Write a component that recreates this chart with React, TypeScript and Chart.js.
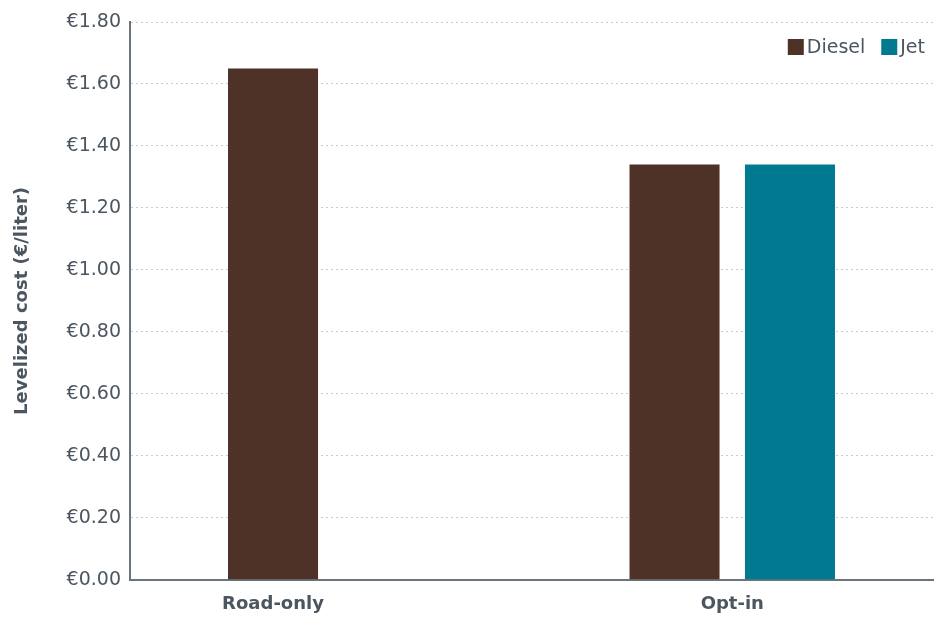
import React, { useEffect, useRef } from "react";
import { Chart, registerables } from "chart.js";

Chart.register(...registerables);

const categories = ["Road-only", "Opt-in"];
const dieselValues = [1.65, 1.34];
const jetValues: (number | null)[] = [null, 1.34];
const yTicks = [0, 0.2, 0.4, 0.6, 0.8, 1.0, 1.2, 1.4, 1.6, 1.8];
const yTitle = "Levelized cost (€/liter)";

const FONT = "'DejaVu Sans', 'Open Sans', sans-serif";
const TEXT = "#4b5660";
const DIESEL = "#4e3228";
const JET = "#007a91";

const customPlugin = {
  id: "customDraw",
  afterDraw(chart: any) {
    const ctx = chart.ctx;
    const area = chart.chartArea;
    ctx.save();
    ctx.font = `bold 18px ${FONT}`;
    ctx.fillStyle = TEXT;
    ctx.textAlign = "center";
    ctx.textBaseline = "middle";
    categories.forEach((cat, i) => {
      const xs: number[] = [];
      chart.data.datasets.forEach((ds: any, di: number) => {
        const v = ds.data[i];
        if (v !== null && v !== undefined) {
          xs.push(chart.getDatasetMeta(di).data[i].x);
        }
      });
      const cx = xs.reduce((a, b) => a + b, 0) / xs.length;
      ctx.fillText(cat, cx, area.bottom + 25);
    });
    ctx.font = `19px ${FONT}`;
    ctx.textAlign = "left";
    const box = 16;
    const items = chart.data.datasets.map((ds: any) => ({ label: ds.label, color: ds.backgroundColor }));
    const widths = items.map((it: any) => box + 3 + ctx.measureText(it.label).width);
    const gap = 16;
    const total = widths.reduce((a: number, b: number) => a + b, 0) + gap * (items.length - 1);
    let x = area.right - 8 - total;
    const y = area.top + 25;
    items.forEach((it: any, k: number) => {
      ctx.fillStyle = it.color;
      ctx.fillRect(x, y - box / 2, box, box);
      ctx.fillStyle = TEXT;
      ctx.fillText(it.label, x + box + 3, y + 1);
      x += widths[k] + gap;
    });
    ctx.restore();
  },
};

export default function App() {
  const ref = useRef<HTMLCanvasElement | null>(null);
  useEffect(() => {
    document.body.style.margin = "0";
    const chart = new Chart(ref.current as HTMLCanvasElement, {
      type: "bar",
      data: {
        labels: categories,
        datasets: [
          { label: "Diesel", data: dieselValues, backgroundColor: DIESEL, barPercentage: 0.78, categoryPercentage: 0.575 },
          { label: "Jet", data: jetValues, backgroundColor: JET, barPercentage: 0.78, categoryPercentage: 0.575 },
        ],
      },
      options: {
        animation: false,
        responsive: false,
        layout: { padding: { left: 12, right: 7, top: 22, bottom: 10 } },
        plugins: { legend: { display: false }, tooltip: { enabled: false } },
        scales: {
          x: {
            grid: { display: false },
            border: { display: true, color: "#6b747b", width: 2 },
            ticks: { color: "rgba(0,0,0,0)", font: { family: FONT, size: 16 }, padding: 0 },
          },
          y: {
            min: 0,
            max: 1.8,
            afterBuildTicks: (axis: any) => {
              axis.ticks = yTicks.map((v) => ({ value: v }));
            },
            grid: {
              color: (c: any) => (c.tick && c.tick.value === 0 ? "rgba(0,0,0,0)" : "#c9cccf"),
              drawTicks: false,
            },
            border: { display: true, color: "#6b747b", width: 2, dash: [2, 3] },
            ticks: {
              color: TEXT,
              font: { family: FONT, size: 19 },
              padding: 9,
              callback: (v: any) => "€" + Number(v).toFixed(2),
            },
            title: {
              display: true,
              text: yTitle,
              color: TEXT,
              font: { family: FONT, size: 18, weight: "bold" },
              padding: { top: 0, bottom: 24 },
            },
          },
        },
      },
      plugins: [customPlugin],
    } as any);
    return () => chart.destroy();
  }, []);
  return (
    <div style={{ width: 940, height: 617 }}>
      <canvas ref={ref} width={940} height={617} style={{ width: 940, height: 617 }} />
    </div>
  );
}
